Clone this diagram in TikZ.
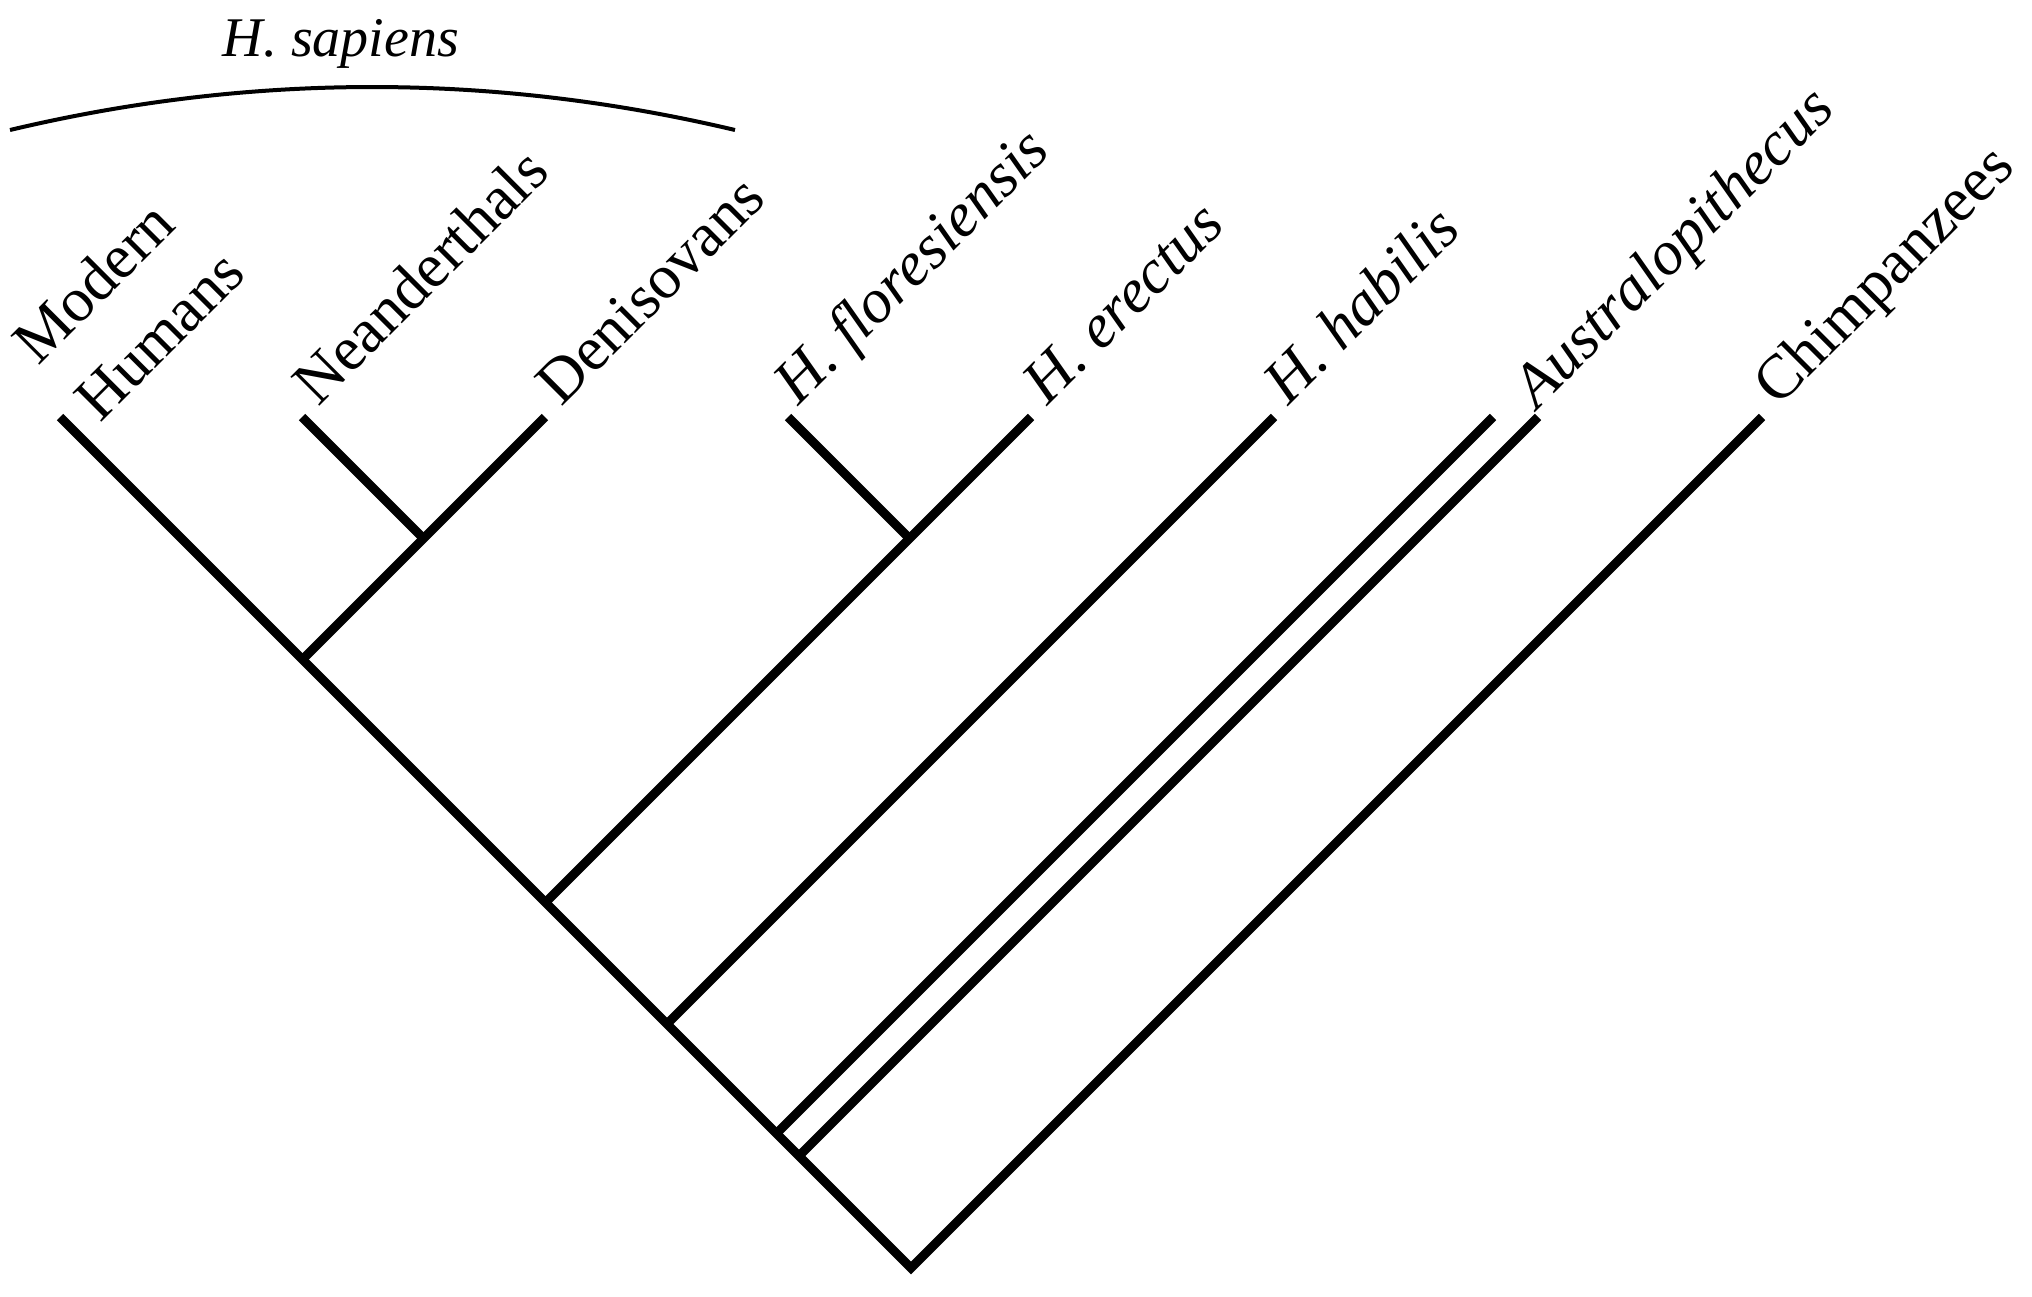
\documentclass[tikz,border=0pt]{standalone}
\usepackage{fontspec}
\setmainfont{Liberation Serif}
\begin{document}
\begin{tikzpicture}[x=1pt,y=-1pt,
  branch/.style={line width=9pt},
  taxon/.style={rotate=45,anchor=base west,inner sep=0pt,font=\fontsize{62.5}{75}\selectfont},
  itaxon/.style={taxon,font=\fontsize{62.5}{75}\selectfont\itshape},
]
\useasboundingbox (0,0) rectangle (2032,1296);
% tips
\coordinate (tMod) at (60,417);
\coordinate (tNea) at (302,417);
\coordinate (tDen) at (545,417);
\coordinate (tFlo) at (788,417);
\coordinate (tEre) at (1031,417);
\coordinate (tHab) at (1274,417);
\coordinate (tAu1) at (1493,417);
\coordinate (tAu2) at (1538,417);
\coordinate (tChi) at (1762,417);
% junctions
\coordinate (root) at (911,1268);
\coordinate (jND) at (423.5,538.5);
\coordinate (jS) at (302.5,659.5);
\coordinate (jFE) at (909.5,538.5);
\coordinate (jE) at (545.5,902.5);
\coordinate (jH) at (667,1024);
\coordinate (jA1) at (776.5,1133.5);
\coordinate (jA2) at (799,1156);
% branches
\draw[branch] (tMod) -- (root) -- (tChi);
\draw[branch] (tNea) -- (jND);
\draw[branch] (tDen) -- (jS);
\draw[branch] (tFlo) -- (jFE);
\draw[branch] (tEre) -- (jE);
\draw[branch] (tHab) -- (jH);
\draw[branch] (tAu1) -- (jA1);
\draw[branch] (tAu2) -- (jA2);
% labels
\node[taxon] (lMod) at (38,367) {Modern};
\node[taxon] (lHum) at (100,424) {Humans};
\node[taxon] (lNea) at (318,408) {Neanderthals};
\node[taxon] (lDen) at (561,408) {Denisovans};
\node[itaxon] (lFlo) at (798,407) {H. floresiensis};
\node[itaxon] (lEre) at (1047,407) {H. erectus};
\node[itaxon] (lHab) at (1288,407) {H. habilis};
\node[itaxon] (lAus) at (1537,411) {Australopithecus};
\node[taxon] (lChi) at (1778,408) {Chimpanzees};
% H. sapiens bracket
\coordinate (aL) at (10,130);
\coordinate (aC1) at (251,72.7);
\coordinate (aC2) at (493,72.7);
\coordinate (aR) at (735,130);
\draw[line width=4pt] (aL) .. controls (aC1) and (aC2) .. (aR);
\node[anchor=base,inner sep=0pt,font=\fontsize{56}{60}\selectfont\itshape] (lSap) at (341,56) {H. sapiens};
\end{tikzpicture}
\end{document}
